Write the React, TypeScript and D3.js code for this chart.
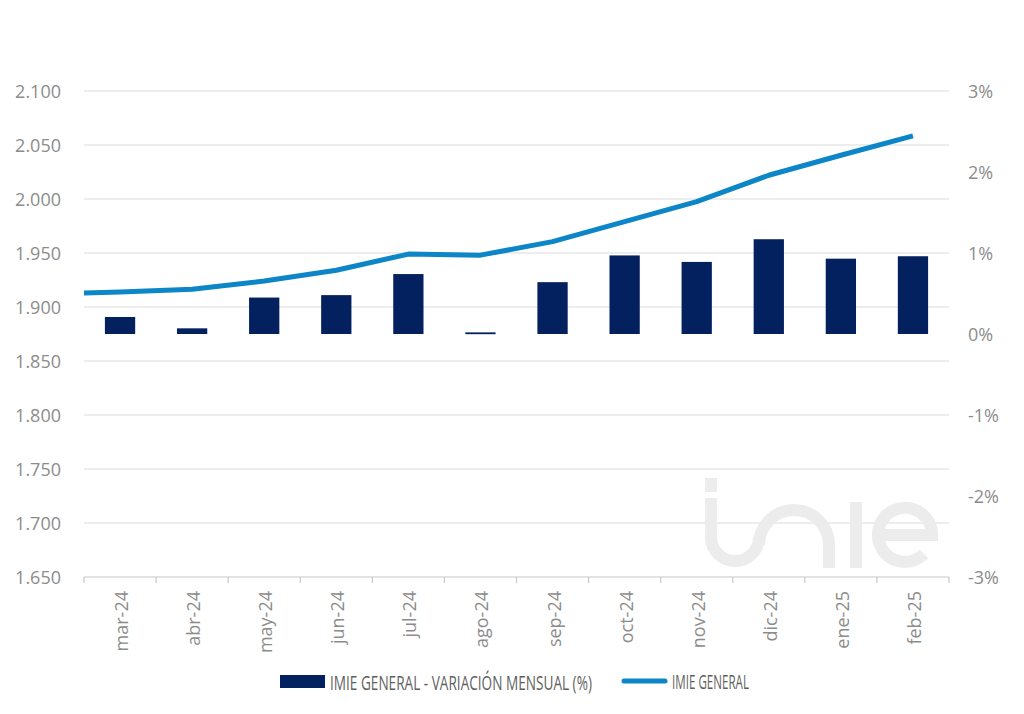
import React, { useLayoutEffect, useRef, useState } from "react";
import * as d3 from "d3";

const categories = ["mar-24","abr-24","may-24","jun-24","jul-24","ago-24","sep-24","oct-24","nov-24","dic-24","ene-25","feb-25"];
const monthlyChange = [0.21,0.07,0.45,0.48,0.74,0.02,0.64,0.97,0.89,1.17,0.93,0.96];
const imieGeneral = [1914,1916.5,1924,1934,1949,1948,1960.5,1979,1997.5,2022,2040.5,2058.5];
const previousImie = 1912; // feb-24, only partly visible at the left edge
const leftTicks = [1650,1700,1750,1800,1850,1900,1950,2000,2050,2100];
const rightTicks = [-3,-2,-1,0,1,2,3];
const legendLabels = ["IMIE GENERAL - VARIACIÓN MENSUAL (%)", "IMIE GENERAL"];

const W = 1024, H = 714;
const left = 84, right = 949, top = 91, bottom = 577;
const grey = "#8c8c8c";
const barColor = "#03215e";
const lineColor = "#0c86c6";
const font = "'Open Sans', sans-serif";

function CondensedText({ x, y, width, children }: { x: number; y: number; width: number; children: string }) {
  const ref = useRef<SVGTextElement>(null);
  const [s, setS] = useState(0.65);
  useLayoutEffect(() => {
    if (ref.current) {
      const w = ref.current.getComputedTextLength();
      if (w > 0) setS(width / w);
    }
  }, [width, children]);
  return (
    <g transform={`translate(${x},${y}) scale(${s},1)`}>
      <text ref={ref} x={0} y={0} dominantBaseline="central" fontSize={20} fill="#5f5f5f">{children}</text>
    </g>
  );
}

export default function App() {
  const x = d3.scaleBand<string>().domain(categories).range([left, right]).paddingInner(0).paddingOuter(0);
  const bw = x.bandwidth();
  const yL = d3.scaleLinear().domain([1650, 2100]).range([bottom, top]);
  const yR = d3.scaleLinear().domain([-3, 3]).range([bottom, top]);
  const barW = bw * 0.42;
  const cx = (c: string) => (x(c) as number) + bw / 2;

  const pts: [number, number][] = [[cx(categories[0]) - bw, yL(previousImie)]];
  categories.forEach((c, i) => pts.push([cx(c), yL(imieGeneral[i])]));
  const linePath = d3.line()(pts) as string;

  const fmtL = (v: number) => d3.format(".3f")(v / 1000);
  const boundaries = d3.range(categories.length + 1).map(i => left + i * bw);

  return (
    <svg width={W} height={H} style={{ position: "absolute", left: 0, top: 0, background: "#fff" }} fontFamily={font}>
      <defs>
        <clipPath id="plot"><rect x={left} y={0} width={right - left} height={H} /></clipPath>
      </defs>
      {leftTicks.map(t => (
        <line key={t} x1={left} x2={right} y1={yL(t)} y2={yL(t)} stroke={t === 1650 ? "#c8c8c8" : "#dcdcdc"} strokeWidth={1.2} />
      ))}
      <g fill="none" stroke="#ececec" strokeWidth={12}>
        <rect x={705} y={478} width={12} height={14} fill="#ececec" stroke="none" />
        <path d="M711 498 V537 A24 24 0 0 0 759 537 V545 A35 35 0 0 1 829 545 V568" />
        <path d="M856 502 V568" />
        <path d="M878 535 H932 A27 27 0 1 0 924 554" />
      </g>
      {boundaries.map((b, i) => (
        <line key={i} x1={b} x2={b} y1={bottom} y2={bottom + 6} stroke="#c8c8c8" strokeWidth={1.2} />
      ))}
      {categories.map((c, i) => {
        const v = monthlyChange[i];
        const y0 = yR(0), y1 = yR(v);
        return <rect key={c} x={cx(c) - barW / 2} y={Math.min(y0, y1)} width={barW} height={Math.max(1.8, Math.abs(y0 - y1))} fill={barColor} />;
      })}
      <path d={linePath} fill="none" stroke={lineColor} strokeWidth={5} strokeLinejoin="round" clipPath="url(#plot)" />
      {leftTicks.map(t => (
        <text key={t} x={61} y={yL(t)} textAnchor="end" dominantBaseline="central" fontSize={18} fill={grey}>{fmtL(t)}</text>
      ))}
      {rightTicks.map(t => (
        <text key={t} x={968} y={yR(t)} textAnchor="start" dominantBaseline="central" fontSize={18} fill={grey}>{`${t}%`}</text>
      ))}
      {categories.map(c => (
        <text key={c} transform={`translate(${cx(c) + 1},${591}) rotate(-90)`} textAnchor="end" dominantBaseline="central" fontSize={18} fill={grey}>{c}</text>
      ))}
      <rect x={280} y={675} width={45} height={13} fill={barColor} />
      <CondensedText x={330} y={682} width={262}>{legendLabels[0]}</CondensedText>
      <line x1={624} x2={665} y1={681} y2={681} stroke={lineColor} strokeWidth={5} strokeLinecap="round" />
      <CondensedText x={672} y={682} width={77}>{legendLabels[1]}</CondensedText>
    </svg>
  );
}
